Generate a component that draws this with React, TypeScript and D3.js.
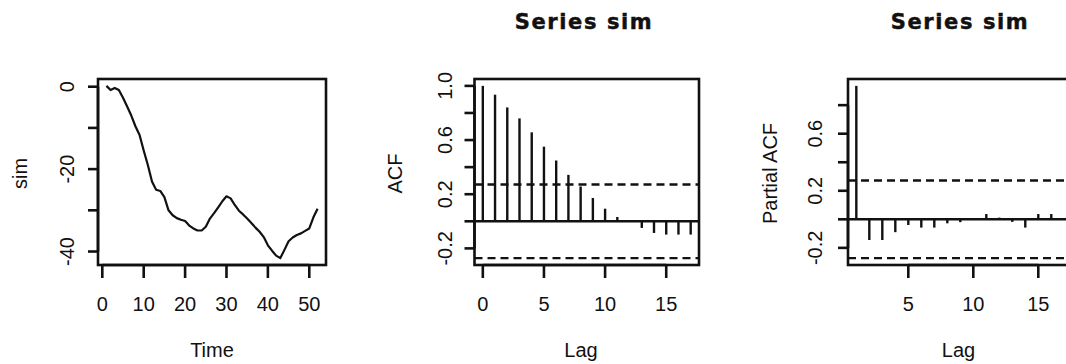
import React from 'react';
import * as d3 from 'd3';

// ---------- data ----------
const simTime = [1,2,3,4,5,6,7,8,9,10,11,12,13,14,15,16,17,18,19,20,21,22,23,24,25,26,27,28,29,30,31,32,33,34,35,36,37,38,39,40,41,42,43,44,45,46,47,48,49,50,51,52];
const simValues = [0.2,-0.8,-0.3,-0.8,-2.7,-4.8,-7.0,-9.6,-11.7,-15.5,-19.0,-23.0,-25.0,-25.3,-26.8,-30.0,-31.2,-31.9,-32.3,-32.6,-33.7,-34.4,-34.9,-34.9,-34.0,-32.0,-30.7,-29.3,-27.8,-26.6,-27.1,-28.7,-30.1,-31.0,-32.0,-33.1,-34.2,-35.2,-36.5,-38.5,-39.8,-41.0,-41.6,-39.6,-37.5,-36.6,-36.0,-35.6,-35.0,-34.4,-31.7,-29.6];

const acfLags = [0,1,2,3,4,5,6,7,8,9,10,11,12,13,14,15,16,17];
const acfValues = [1.0,0.935,0.841,0.76,0.657,0.551,0.449,0.343,0.257,0.172,0.093,0.032,-0.003,-0.049,-0.086,-0.098,-0.098,-0.098];

const pacfLags = [1,2,3,4,5,6,7,8,9,10,11,12,13,14,15,16,17];
const pacfValues = [0.935,-0.145,-0.145,-0.09,-0.04,-0.058,-0.058,-0.028,-0.02,-0.005,0.037,0.012,-0.018,-0.058,0.037,0.037,0.0];

const nObs = 52;

const timeXTicks = [0,10,20,30,40,50];
const timeYTicks = [0,-10,-20,-30,-40];
const timeYLabels = [0,-20,-40];
const acfXTicks = [0,5,10,15];
const acfYTicks = [-0.2,0,0.2,0.4,0.6,0.8,1.0];
const acfYLabels = [-0.2,0.2,0.6,1.0];
const pacfXTicks = [5,10,15];
const pacfYTicks = [-0.2,0,0.2,0.4,0.6,0.8];
const pacfYLabels = [-0.2,0.2,0.6];

const titleText = 'Series sim';

// ---------- layout ----------
const W = 1066, H = 364;
const TOP = 79, BOTTOM = 265;
const FONT = '"Liberation Sans", Arial, Helvetica, sans-serif';
const LW = 2.6;

const pad = (lo: number, hi: number): [number, number] => {
  const d = (hi - lo) * 0.04;
  return [lo - d, hi + d];
};

type AxisProps = {
  x: d3.ScaleLinear<number, number>;
  y: d3.ScaleLinear<number, number>;
  xTicks: number[];
  yTicks: number[];
  yLabels: number[];
  yFmt: (v: number) => string;
  yLabelX: number;
  xTitle: string;
  xTitleX: number;
  yTitle: string;
  yTitleX: number;
};

function Frame(p: AxisProps) {
  const [x0, x1] = p.x.range();
  const xt = p.xTicks;
  const yt = p.yTicks;
  return (
    <g>
      <rect x={x0} y={TOP} width={x1 - x0} height={BOTTOM - TOP} fill="none" stroke="#111" strokeWidth={LW} />
      <line x1={p.x(xt[0])} x2={p.x(xt[xt.length - 1])} y1={BOTTOM} y2={BOTTOM} stroke="#111" strokeWidth={LW} />
      {xt.map((t) => (
        <g key={'xt' + t}>
          <line x1={p.x(t)} x2={p.x(t)} y1={BOTTOM} y2={BOTTOM + 13} stroke="#111" strokeWidth={LW} />
          <text x={p.x(t)} y={310.5} textAnchor="middle" fontSize={20} fontFamily={FONT} fill="#111">{String(t)}</text>
        </g>
      ))}
      <line x1={x0} x2={x0} y1={p.y(yt[0])} y2={p.y(yt[yt.length - 1])} stroke="#111" strokeWidth={LW} />
      {yt.map((t) => (
        <line key={'yt' + t} x1={x0 - 10} x2={x0} y1={p.y(t)} y2={p.y(t)} stroke="#111" strokeWidth={LW} />
      ))}
      {p.yLabels.map((t) => (
        <text key={'yl' + t} transform={`translate(${p.yLabelX},${p.y(t)}) rotate(-90)`} textAnchor="middle" fontSize={20} fontFamily={FONT} fill="#111">{p.yFmt(t)}</text>
      ))}
      <text x={p.xTitleX} y={357} textAnchor="middle" fontSize={20} fontFamily={FONT} fill="#111">{p.xTitle}</text>
      <text transform={`translate(${p.yTitleX},${(TOP + BOTTOM) / 2 + 1.5}) rotate(-90)`} textAnchor="middle" fontSize={20} fontFamily={FONT} fill="#111">{p.yTitle}</text>
    </g>
  );
}

function Title({ cx }: { cx: number }) {
  return (
    <text x={cx} y={28.5} textAnchor="middle" fontSize={21} fontWeight="bold" letterSpacing={1.6}
      fontFamily='"DejaVu Sans", sans-serif' fill="#111" stroke="#111" strokeWidth={0.45}>{titleText}</text>
  );
}

export default function App() {
  const conf = 1.96 / Math.sqrt(nObs);

  const x1 = d3.scaleLinear().domain(pad(d3.min(simTime)!, d3.max(simTime)!)).range([98, 326]);
  const y1 = d3.scaleLinear().domain(pad(d3.min(simValues)!, d3.max(simValues)!)).range([BOTTOM, TOP]);
  const line = d3.line<number>().x((_, i) => x1(simTime[i])).y((v) => y1(v));

  const x2 = d3.scaleLinear().domain(pad(d3.min(acfLags)!, d3.max(acfLags)!)).range([474.5, 699]);
  const y2 = d3.scaleLinear().domain(pad(Math.min(-conf, d3.min(acfValues)!), Math.max(conf, d3.max(acfValues)!))).range([BOTTOM, TOP]);

  const x3 = d3.scaleLinear().domain(pad(d3.min(pacfLags)!, d3.max(pacfLags)!)).range([848, 1072.6]);
  const y3 = d3.scaleLinear().domain(pad(Math.min(-conf, d3.min(pacfValues)!), Math.max(conf, d3.max(pacfValues)!))).range([BOTTOM, TOP]);

  const fmt1 = (v: number) => v.toFixed(1);

  return (
    <svg width={W} height={H} style={{ position: 'absolute', left: 0, top: 0, background: '#fff' }}>
      <rect x={0} y={0} width={W} height={H} fill="#fff" />

      <path d={line(simValues) || ''} fill="none" stroke="#111" strokeWidth={2.2} strokeLinejoin="round" />
      <Frame x={x1} y={y1} xTicks={timeXTicks} yTicks={timeYTicks} yLabels={timeYLabels} yFmt={(v) => String(v)}
        yLabelX={73.5} xTitle="Time" xTitleX={212} yTitle="sim" yTitleX={26.5} />

      <Title cx={584} />
      {acfLags.map((l, i) => (
        <line key={'a' + l} x1={x2(l)} x2={x2(l)} y1={y2(0)} y2={y2(acfValues[i])} stroke="#111" strokeWidth={2.4} />
      ))}
      <line x1={474.5} x2={699} y1={y2(0)} y2={y2(0)} stroke="#111" strokeWidth={2.4} />
      <line x1={474.5} x2={699} y1={y2(conf)} y2={y2(conf)} stroke="#111" strokeWidth={2.4} strokeDasharray="8,5" />
      <line x1={474.5} x2={699} y1={y2(-conf)} y2={y2(-conf)} stroke="#111" strokeWidth={2.4} strokeDasharray="8,5" />
      <Frame x={x2} y={y2} xTicks={acfXTicks} yTicks={acfYTicks} yLabels={acfYLabels} yFmt={fmt1}
        yLabelX={451.5} xTitle="Lag" xTitleX={581} yTitle="ACF" yTitleX={401.5} />

      <Title cx={960} />
      {pacfLags.map((l, i) => (
        <line key={'p' + l} x1={x3(l)} x2={x3(l)} y1={y3(0)} y2={y3(pacfValues[i])} stroke="#111" strokeWidth={2.4} />
      ))}
      <line x1={848} x2={1072.6} y1={y3(0)} y2={y3(0)} stroke="#111" strokeWidth={2.4} />
      <line x1={848} x2={1072.6} y1={y3(conf)} y2={y3(conf)} stroke="#111" strokeWidth={2.4} strokeDasharray="8,5" />
      <line x1={848} x2={1072.6} y1={y3(-conf)} y2={y3(-conf)} stroke="#111" strokeWidth={2.4} strokeDasharray="8,5" />
      <Frame x={x3} y={y3} xTicks={pacfXTicks} yTicks={pacfYTicks} yLabels={pacfYLabels} yFmt={fmt1}
        yLabelX={821.5} xTitle="Lag" xTitleX={958.5} yTitle="Partial ACF" yTitleX={776.5} />
    </svg>
  );
}
